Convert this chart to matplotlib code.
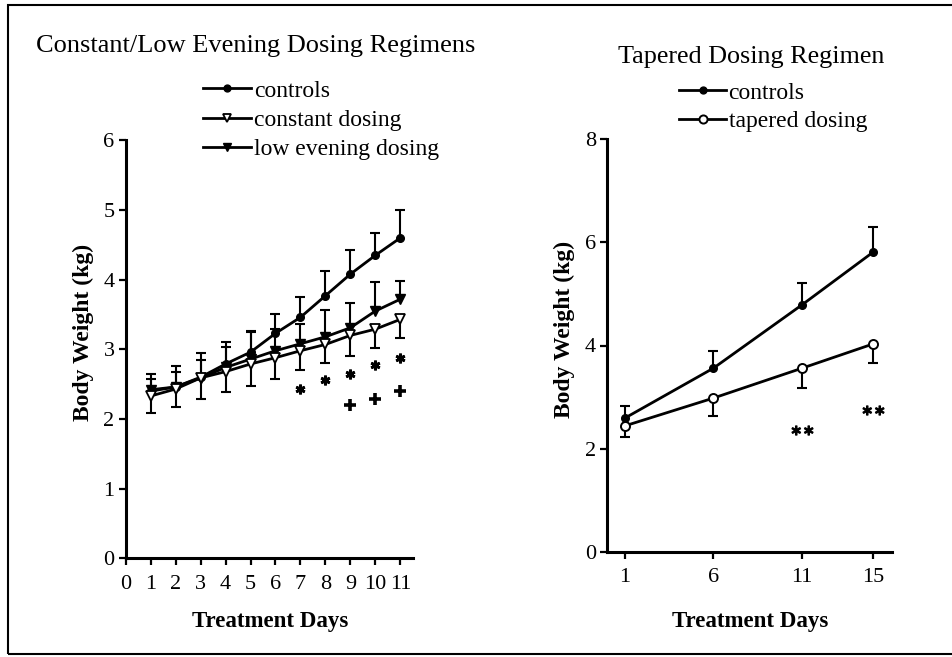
import matplotlib
matplotlib.use('Agg')
import matplotlib.pyplot as plt
from matplotlib.patches import Rectangle
import numpy as np

plt.rcParams['font.family'] = ['Liberation Serif', 'DejaVu Serif']

# ---------------- data ----------------
days_left = [1, 2, 3, 4, 5, 6, 7, 8, 9, 10, 11]
controls_left = [2.40, 2.46, 2.60, 2.79, 2.96, 3.23, 3.46, 3.77, 4.08, 4.35, 4.60]
controls_left_err = [0.25, 0.30, 0.35, 0.31, 0.31, 0.28, 0.29, 0.36, 0.35, 0.32, 0.40]
constant_dosing = [2.33, 2.43, 2.59, 2.68, 2.79, 2.88, 2.98, 3.07, 3.20, 3.29, 3.43]
constant_dosing_err = [0.24, 0.26, 0.31, 0.29, 0.31, 0.31, 0.28, 0.26, 0.29, 0.27, 0.26]
low_evening = [2.42, 2.46, 2.59, 2.74, 2.86, 2.98, 3.08, 3.18, 3.31, 3.55, 3.72]
low_evening_err = [0.16, 0.21, 0.26, 0.30, 0.39, 0.31, 0.28, 0.38, 0.36, 0.41, 0.26]

star_days = [7, 8, 9, 10, 11]
star_y = [2.43, 2.56, 2.65, 2.77, 2.88]
plus_days = [9, 10, 11]
plus_y = [2.20, 2.28, 2.40]

days_right = [1, 6, 11, 15]
controls_right = [2.59, 3.56, 4.79, 5.81]
controls_right_err = [0.24, 0.34, 0.42, 0.48]
tapered = [2.44, 2.98, 3.56, 4.03]
tapered_err = [0.21, 0.35, 0.38, 0.36]
dstar_days = [11, 15]
dstar_y = [2.36, 2.74]

left_xticks = list(range(0, 12))
left_yticks = [0, 1, 2, 3, 4, 5, 6]
right_xticks = [1, 6, 11, 15]
right_yticks = [0, 2, 4, 6, 8]

title_left = "Constant/Low Evening Dosing Regimens"
title_right = "Tapered Dosing Regimen"
xlabel = "Treatment Days"
ylabel = "Body Weight (kg)"

# ---------------- figure ----------------
W, H = 953, 657
fig = plt.figure(figsize=(W / 100, H / 100), dpi=100)


def px_axes(l, r, b, t):
    return fig.add_axes([l / W, 1 - b / H, (r - l) / W, (b - t) / H])


axL = px_axes(125.7, 413.3, 558.3, 140.4)
axR = px_axes(607, 892, 551.7, 139.3)

LW = 2.0
ELW = 1.5
CAP_MS = 7.5


def err_up(ax, x, y, e):
    y = np.asarray(y); e = np.asarray(e)
    ax.errorbar(x, y, yerr=[np.zeros_like(e), e], fmt='none', ecolor='k',
                elinewidth=ELW, capsize=0, zorder=2)
    ax.plot(x, y + e, ls='none', marker='_', ms=CAP_MS, mew=ELW, color='k', zorder=2)


def err_down(ax, x, y, e):
    y = np.asarray(y); e = np.asarray(e)
    ax.errorbar(x, y, yerr=[e, np.zeros_like(e)], fmt='none', ecolor='k',
                elinewidth=ELW, capsize=0, zorder=2)
    ax.plot(x, y - e, ls='none', marker='_', ms=CAP_MS, mew=ELW, color='k', zorder=2)


def style_axes(ax):
    for s in ['top', 'right']:
        ax.spines[s].set_visible(False)
    for s in ['left', 'bottom']:
        ax.spines[s].set_linewidth(2.2)
    ax.tick_params(direction='out', length=5, width=1.6, labelsize=16, colors='k')
    ax.tick_params(axis='y', pad=3)
    ax.tick_params(axis='x', pad=7)


# ---------------- left panel ----------------
err_up(axL, days_left, controls_left, controls_left_err)
err_up(axL, days_left, low_evening, low_evening_err)
err_down(axL, days_left, constant_dosing, constant_dosing_err)

lc, = axL.plot(days_left, controls_left, '-o', color='k', lw=LW, ms=5.5,
               mfc='k', mec='k', zorder=4, label='controls')
lcd, = axL.plot(days_left, constant_dosing, '-v', color='k', lw=LW, ms=7,
                mfc='white', mec='k', mew=1.3, zorder=5, label='constant dosing')
lle, = axL.plot(days_left, low_evening, '-v', color='k', lw=LW, ms=7,
                mfc='k', mec='k', zorder=4, label='low evening dosing')

axL.plot(star_days, star_y, ls='none', marker=(6, 2, 0), ms=7, mew=2.0, color='k')
axL.plot(plus_days, plus_y, ls='none', marker='+', ms=8, mew=2.6, color='k')

axL.set_xlim(0, 11.52)
axL.set_ylim(0, 6)
axL.set_xticks(left_xticks)
axL.set_yticks(left_yticks)
style_axes(axL)
axL.set_xlabel(xlabel, fontsize=16.5, fontweight='bold')
axL.set_ylabel(ylabel, fontsize=17, fontweight='bold')
axL.xaxis.set_label_coords((270 - 125.7) / (413.3 - 125.7), (558.3 - 622) / (558.3 - 140.4))
axL.xaxis.label.set_va('center')
axL.yaxis.set_label_coords((83 - 125.7) / (413.3 - 125.7), (558.3 - 332.5) / (558.3 - 140.4))
axL.yaxis.label.set_va('center')

axL.legend(handles=[lc, lcd, lle], loc='upper left',
           bbox_to_anchor=(203 / W, 1 - 80 / H), bbox_transform=fig.transFigure,
           frameon=False, fontsize=17, handlelength=2.05, handletextpad=0.1,
           borderpad=0, borderaxespad=0, labelspacing=0.33, markerscale=0.9)

# ---------------- right panel ----------------
err_up(axR, days_right, controls_right, controls_right_err)
err_down(axR, days_right, tapered, tapered_err)
rc, = axR.plot(days_right, controls_right, '-o', color='k', lw=LW, ms=5.5,
               mfc='k', mec='k', zorder=4, label='controls')
rt, = axR.plot(days_right, tapered, '-o', color='k', lw=LW, ms=6.5,
               mfc='white', mec='k', mew=1.4, zorder=5, label='tapered dosing')
axR.plot(dstar_days, dstar_y, ls='none', marker=r'$\ast\!\ast$', ms=15, color='k')

axR.set_xlim(0, 16.07)
axR.set_ylim(0, 8)
axR.set_xticks(right_xticks)
axR.set_yticks(right_yticks)
style_axes(axR)
axR.set_xlabel(xlabel, fontsize=16.5, fontweight='bold')
axR.set_ylabel(ylabel, fontsize=17, fontweight='bold')
axR.xaxis.set_label_coords((750 - 607) / (892 - 607), (551.7 - 622) / (551.7 - 139.3))
axR.xaxis.label.set_va('center')
axR.yaxis.set_label_coords((564 - 607) / (892 - 607), (551.7 - 329.5) / (551.7 - 139.3))
axR.yaxis.label.set_va('center')

axR.legend(handles=[rc, rt], loc='upper left',
           bbox_to_anchor=(679 / W, 1 - 82 / H), bbox_transform=fig.transFigure,
           frameon=False, fontsize=17, handlelength=2.0, handletextpad=0.1,
           borderpad=0, borderaxespad=0, labelspacing=0.31, markerscale=0.9)

# ---------------- titles & frame ----------------
fig.text(256 / W, 1 - 52 / H, title_left, ha='center', va='baseline', fontsize=19)
fig.text(751 / W, 1 - 63 / H, title_right, ha='center', va='baseline', fontsize=18.8)

fig.patches.append(Rectangle((8 / W, 1 - 654 / H), 1.2, (654 - 5) / H, fill=False,
                             lw=1.5, edgecolor='k', transform=fig.transFigure,
                             figure=fig, clip_on=False))

fig.savefig('out.png', dpi=100)
